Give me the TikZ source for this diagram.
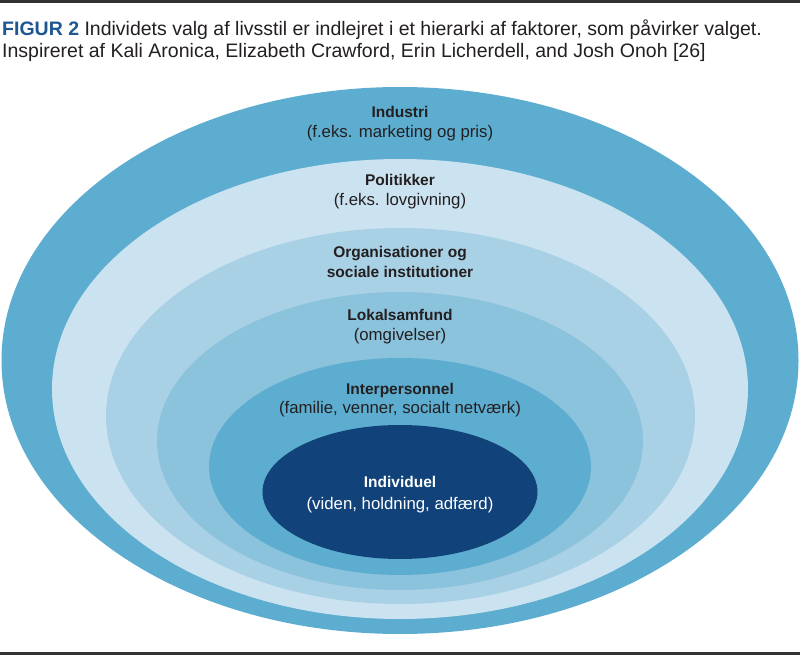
\documentclass[tikz,border=0pt]{standalone}
\usepackage{fontspec}
\setmainfont{Liberation Sans}
\definecolor{ringA}{HTML}{5DADD0}
\definecolor{ringB}{HTML}{CBE3F0}
\definecolor{ringC}{HTML}{A9D1E5}
\definecolor{ringD}{HTML}{8BC2DC}
\definecolor{ringE}{HTML}{5DADD0}
\definecolor{ringF}{HTML}{11437A}
\definecolor{txt}{HTML}{231F20}
\definecolor{figblue}{HTML}{1D5690}
\definecolor{rulecol}{HTML}{333333}
\tikzset{
  ring/.style={draw=none},
  head/.style={anchor=base, inner sep=0pt, font=\fontsize{15.5}{18}\selectfont\bfseries, text=txt},
  sub/.style={anchor=base, inner sep=0pt, font=\fontsize{16.8}{20}\selectfont, text=txt},
  title/.style={anchor=base west, inner sep=0pt, font=\fontsize{19.5}{22}\selectfont, text=txt},
  rule/.style={line width=2.6pt, rulecol}
}
\begin{document}
\begin{tikzpicture}[x=1pt,y=-1pt]
\useasboundingbox (0,0) rectangle (800,655);
% rules
\draw[rule] (0,1.3) -- (800,1.3);
\draw[rule] (0,653.5) -- (800,653.5);
% title
\node[title] (t1) at (2,36) {{\color{figblue}\bfseries FIGUR 2} Individets valg af livsstil er indlejret i et hierarki af faktorer, som påvirker valget.};
\node[title] (t2) at (2,57.7) {Inspireret af Kali Aronica, Elizabeth Crawford, Erin Licherdell, and Josh Onoh [26]};
% ellipses
\fill[ringA] (400,360.5) ellipse [x radius=398.5, y radius=273.5];
\fill[ringB] (400,389) ellipse [x radius=348, y radius=230];
\fill[ringC] (400.5,416) ellipse [x radius=294.5, y radius=188];
\fill[ringD] (400,441) ellipse [x radius=243, y radius=149];
\fill[ringE] (400,466.5) ellipse [x radius=191, y radius=108.5];
\fill[ringF] (400,492) ellipse [x radius=137.5, y radius=67];
% labels
\node[head] (h1) at (400,118) {Industri};
\node[sub]  (s1) at (400,138) {(f.eks. marketing og pris)};
\node[head] (h2) at (400,185.3) {Politikker};
\node[sub]  (s2) at (400,205) {(f.eks. lovgivning)};
\node[head] (h3) at (400,257.3) {Organisationer og};
\node[head] (h3b) at (400,277) {sociale institutioner};
\node[head] (h4) at (400,320) {Lokalsamfund};
\node[sub]  (s4) at (400,340) {(omgivelser)};
\node[head] (h5) at (400,394) {Interpersonnel};
\node[sub]  (s5) at (400,413) {(familie, venner, socialt netværk)};
\node[head, text=white] (h6) at (400,487.7) {Individuel};
\node[sub, text=white]  (s6) at (400,509) {(viden, holdning, adfærd)};
\end{tikzpicture}
\end{document}
